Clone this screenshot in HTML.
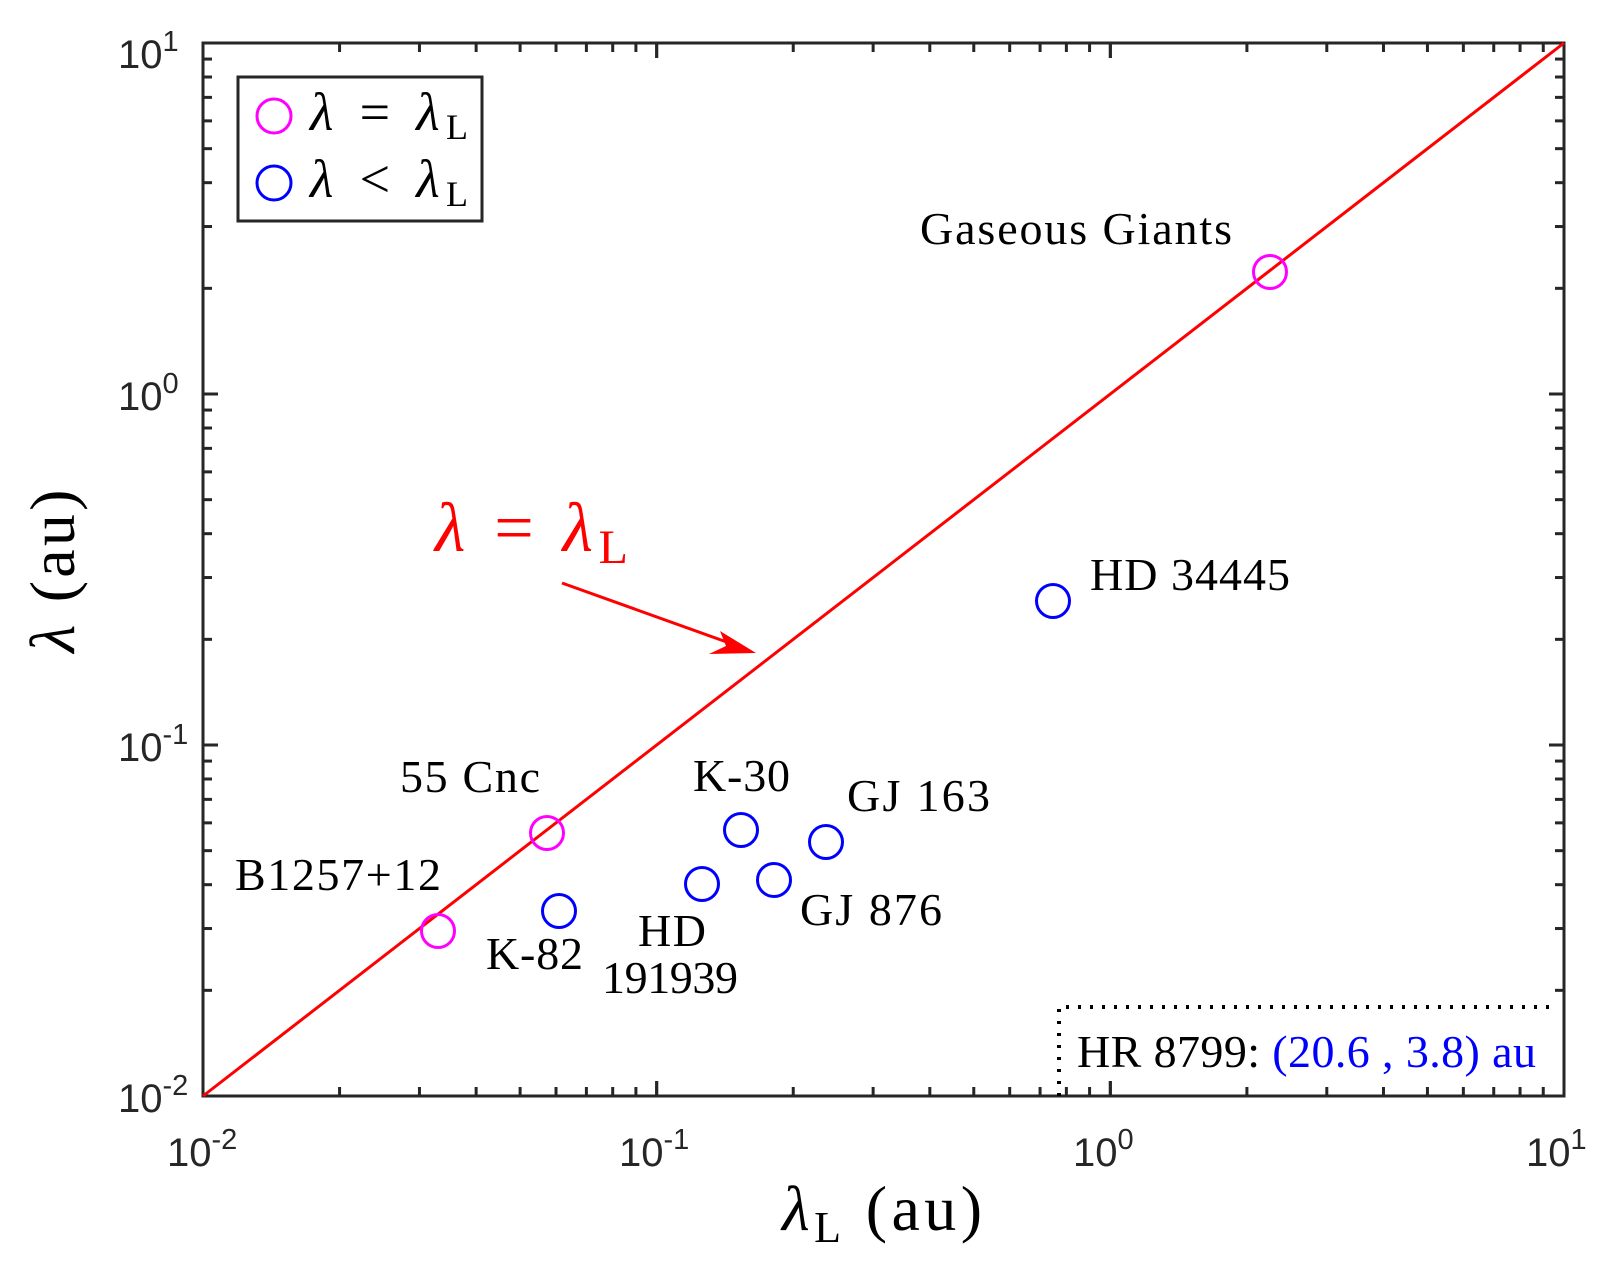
<!DOCTYPE html>
<html><head><meta charset="utf-8"><style>body{margin:0;background:#fff}svg{display:block}</style></head>
<body>
<svg width="1603" height="1273" viewBox="0 0 1603 1273" xmlns="http://www.w3.org/2000/svg">
<rect width="1603" height="1273" fill="#fff"/>
<g id="ticks" stroke="#262626" stroke-width="3"></g>
<rect x="203" y="43" width="1361" height="1053" fill="none" stroke="#262626" stroke-width="3"/>
<line x1="203" y1="1096" x2="1564" y2="43" stroke="#f00" stroke-width="3"/>
<g font-family="Liberation Sans, sans-serif" font-size="40" fill="#262626">
<text x="118" y="1112">10<tspan dy="-17" font-size="29">-2</tspan></text>
<text x="118" y="761">10<tspan dy="-17" font-size="29">-1</tspan></text>
<text x="118" y="410">10<tspan dy="-17" font-size="29">0</tspan></text>
<text x="118" y="68">10<tspan dy="-17" font-size="29">1</tspan></text>
<text x="167" y="1166">10<tspan dy="-17" font-size="29">-2</tspan></text>
<text x="619" y="1166">10<tspan dy="-17" font-size="29">-1</tspan></text>
<text x="1073" y="1166">10<tspan dy="-17" font-size="29">0</tspan></text>
<text x="1526" y="1166">10<tspan dy="-17" font-size="29">1</tspan></text>
</g>
<g font-family="Liberation Serif, serif" fill="#000">
<text x="782" y="1230" font-size="64" font-style="italic" textLength="200">λ<tspan font-style="normal" font-size="44" dy="12">L</tspan><tspan dy="-12" font-style="normal"> (au)</tspan></text>
<text transform="translate(74,571) rotate(-90)" text-anchor="middle" font-size="64" textLength="163"><tspan font-style="italic">λ</tspan> (au)</text>
<g font-size="46">
<text x="920" y="244" textLength="312">Gaseous Giants</text>
<text x="1090" y="590" textLength="200">HD 34445</text>
<text x="400" y="792" textLength="140">55 Cnc</text>
<text x="693" y="791" textLength="97">K-30</text>
<text x="847" y="811" textLength="143">GJ 163</text>
<text x="235" y="890" textLength="206">B1257+12</text>
<text x="800" y="925" textLength="142">GJ 876</text>
<text x="638" y="946" textLength="68">HD</text>
<text x="486" y="969" textLength="97">K-82</text>
<text x="602" y="993" textLength="136">191939</text>
<text x="1077" y="1067" textLength="459">HR 8799: <tspan fill="#00f">(20.6 , 3.8) au</tspan></text>
</g>
<text x="435" y="551" font-size="70" fill="#f00" textLength="193"><tspan font-style="italic">λ</tspan> = <tspan font-style="italic">λ</tspan><tspan font-size="48" dy="12">L</tspan></text>
</g>
<line x1="562" y1="583" x2="735" y2="645" stroke="#f00" stroke-width="3"/>
<polygon points="756,653 720,631 726,646 709,654" fill="#f00"/>
<polyline points="1059,1096 1059,1007 1552,1007" fill="none" stroke="#000" stroke-width="4" stroke-dasharray="3,9"/>
<g fill="none" stroke-width="3">
<circle cx="1270" cy="272" r="16.5" stroke="#f0f"/>
<circle cx="547" cy="833" r="16.5" stroke="#f0f"/>
<circle cx="438" cy="931" r="16.5" stroke="#f0f"/>
<circle cx="1053" cy="601" r="16.5" stroke="#00f"/>
<circle cx="559" cy="911" r="16.5" stroke="#00f"/>
<circle cx="702" cy="884" r="16.5" stroke="#00f"/>
<circle cx="741" cy="830" r="16.5" stroke="#00f"/>
<circle cx="774" cy="880" r="16.5" stroke="#00f"/>
<circle cx="826" cy="842" r="16.5" stroke="#00f"/>
</g>
<rect x="238" y="77" width="244" height="144" fill="#fff" stroke="#262626" stroke-width="3"/>
<circle cx="274" cy="116" r="17" fill="none" stroke="#f0f" stroke-width="3"/>
<circle cx="274" cy="183" r="17" fill="none" stroke="#00f" stroke-width="3"/>
<g font-family="Liberation Serif, serif" font-size="54" fill="#000">
<text x="310" y="130" textLength="158"><tspan font-style="italic">λ</tspan> = <tspan font-style="italic">λ</tspan><tspan font-size="36" dy="9">L</tspan></text>
<text x="310" y="197" textLength="158"><tspan font-style="italic">λ</tspan> &lt; <tspan font-style="italic">λ</tspan><tspan font-size="36" dy="9">L</tspan></text>
</g>
<script>
var g=document.getElementById('ticks'),ns='http://www.w3.org/2000/svg';
function L(a,b,c,d){var l=document.createElementNS(ns,'line');l.setAttribute('x1',a);l.setAttribute('y1',b);l.setAttribute('x2',c);l.setAttribute('y2',d);g.appendChild(l);}
for(var d=0;d<3;d++)for(var k=1;k<=10;k++){var f=d+Math.log10(k);var len=(k==1||k==10)?15:9;
var x=203+f*453.67,y=1096-f*351;
L(x,1096,x,1096-len);L(x,43,x,43+len);L(203,y,203+len,y);L(1564,y,1564-len,y);}
</script>
</svg>
</body></html>
